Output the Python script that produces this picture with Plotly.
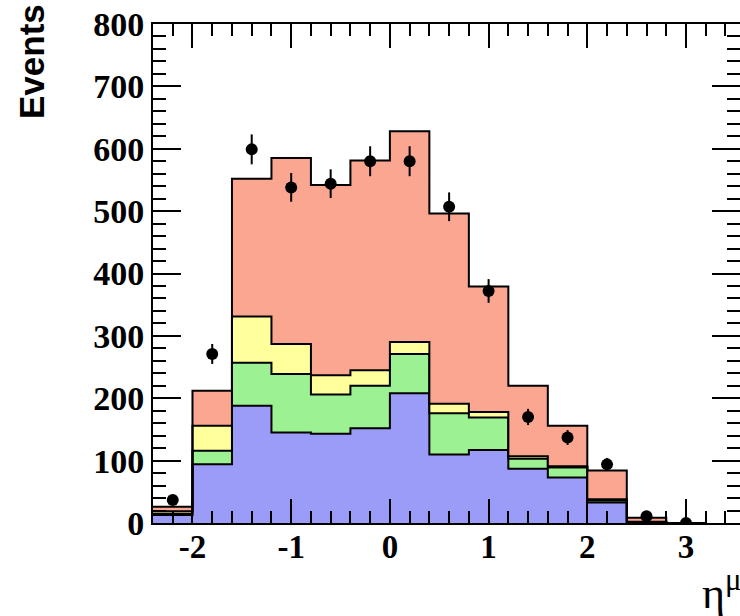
import numpy as np
import plotly.graph_objects as go

# ---- data ----
bin_edges = [-2.4, -2.0, -1.6, -1.2, -0.8, -0.4, 0.0, 0.4, 0.8, 1.2, 1.6, 2.0, 2.4, 2.8, 3.2]
blue_vals   = [13, 94, 188, 145, 143, 152, 208, 110, 117, 87, 73, 33, 1, 0]
green_vals  = [2, 22, 69, 94, 63, 68, 63, 66, 52, 16, 16, 3, 0.5, 0]
yellow_vals = [4, 40, 74, 48, 31, 25, 19, 15, 9, 4, 2, 2, 0.5, 0]
salmon_vals = [7, 56, 221, 298, 305, 336, 338, 305, 201, 113, 65, 46, 6.5, 0]
data_vals   = [37, 271, 599, 538, 544, 580, 580, 507, 372, 170, 137, 94, 11, 0]
data_errs   = [6, 16, 24, 23, 23, 24, 24, 23, 19, 13, 12, 10, 3, 0]

x_ticks = [-2, -1, 0, 1, 2, 3]
y_ticks = [0, 100, 200, 300, 400, 500, 600, 700, 800]

components = [
    ("blue", blue_vals, "#9A9CF8"),
    ("green", green_vals, "#9CF292"),
    ("yellow", yellow_vals, "#FFFF9C"),
    ("salmon", salmon_vals, "#FAA691"),
]

fig = go.Figure()
cum = np.zeros(len(blue_vals))
for i, (name, vals, col) in enumerate(components):
    cum = cum + np.array(vals, dtype=float)
    ys = list(cum) + [cum[-1]]
    fig.add_trace(go.Scatter(
        x=bin_edges, y=ys, mode="lines", line_shape="hv",
        line=dict(color="black", width=2),
        fill="tozeroy" if i == 0 else "tonexty", fillcolor=col,
        name=name, showlegend=False, hoverinfo="skip"))

centers = [(bin_edges[i] + bin_edges[i + 1]) / 2 for i in range(len(data_vals))]
fig.add_trace(go.Scatter(
    x=centers, y=data_vals, mode="markers",
    marker=dict(color="black", size=12, symbol="circle"),
    error_y=dict(type="data", array=data_errs, visible=True, color="black", thickness=2, width=0),
    showlegend=False))

x_font = dict(family="Liberation Serif", size=33, color="black", weight="bold")
y_font = dict(family="Liberation Serif", size=34, color="black", weight="bold")

fig.update_xaxes(
    range=[-2.4, 3.547], tickvals=x_ticks, ticktext=[str(v) for v in x_ticks],
    ticks="inside", ticklen=24, tickwidth=2, tickcolor="black",
    showline=True, linecolor="black", linewidth=2, mirror="ticks",
    showgrid=False, zeroline=False, tickfont=x_font, ticklabelstandoff=-7,
    minor=dict(dtick=0.2, tick0=0, ticks="inside", ticklen=12, tickwidth=2, tickcolor="black", showgrid=False))
fig.update_yaxes(
    range=[0, 800], tickvals=y_ticks, ticktext=[str(v) for v in y_ticks],
    ticks="inside", ticklen=28, tickwidth=2, tickcolor="black",
    showline=True, linecolor="black", linewidth=2, mirror="ticks",
    showgrid=False, zeroline=False, tickfont=y_font,
    minor=dict(dtick=20, tick0=0, ticks="inside", ticklen=13, tickwidth=2, tickcolor="black", showgrid=False))

L, R, T, B = 153, 0, 24, 93
W, H = 740, 616
pw, ph = W - L - R, H - T - B

def px(xp):
    return (xp - L) / pw

def py(yp):
    return (H - B - yp) / ph

fig.add_annotation(text="<b>Events</b>", xref="paper", yref="paper",
                   x=px(32), y=py(62), xanchor="center", yanchor="middle",
                   textangle=-90, showarrow=False,
                   font=dict(family="Liberation Sans", size=35, color="black"))
fig.add_annotation(text="η<sup>μ</sup>", xref="paper", yref="paper",
                   x=px(700), y=py(590), xanchor="left", yanchor="middle",
                   showarrow=False,
                   font=dict(family="Liberation Serif", size=44, color="black"))

fig.update_layout(width=W, height=H, margin=dict(l=L, r=R, t=T, b=B, autoexpand=False),
                  paper_bgcolor="white", plot_bgcolor="white")

fig.write_html("out.html")
